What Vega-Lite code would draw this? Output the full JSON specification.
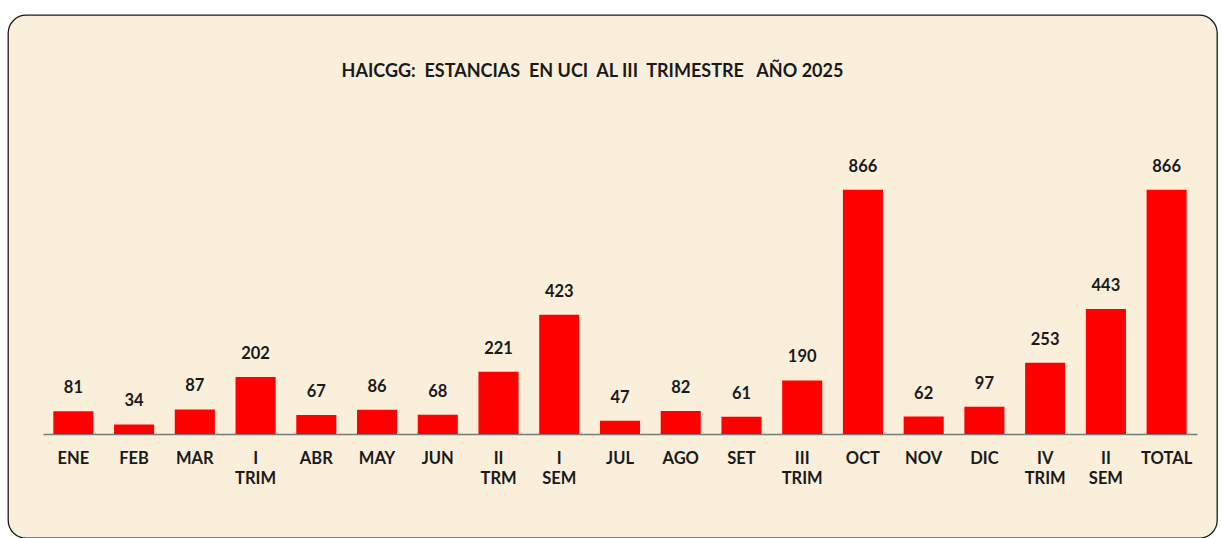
{
  "$schema": "https://vega.github.io/schema/vega-lite/v6.json",
  "autosize": "none",
  "width": 1209,
  "height": 523,
  "padding": {"left": 8, "top": 15, "right": 4, "bottom": 0},
  "background": "white",
  "config": {
    "view": {"fill": "#FAEFDA", "stroke": "#1a1a1a", "strokeWidth": 1.3, "cornerRadius": 18},
    "font": "Lato"
  },
  "title": {
    "text": "HAICGG:\u00a0 ESTANCIAS\u00a0 EN UCI\u00a0 AL III\u00a0 TRIMESTRE\u00a0\u00a0 AÑO 2025",
    "font": "Lato",
    "fontSize": 18,
    "fontWeight": "bold",
    "color": "#1a1a1a",
    "anchor": "middle",
    "baseline": "middle",
    "offset": 0,
    "dy": 75,
    "dx": -20
  },
  "data": {
    "values": [
      {"mes": "ENE", "valor": 81},
      {"mes": "FEB", "valor": 34},
      {"mes": "MAR", "valor": 87},
      {"mes": "I TRIM", "valor": 202},
      {"mes": "ABR", "valor": 67},
      {"mes": "MAY", "valor": 86},
      {"mes": "JUN", "valor": 68},
      {"mes": "II TRM", "valor": 221},
      {"mes": "I SEM", "valor": 423},
      {"mes": "JUL", "valor": 47},
      {"mes": "AGO", "valor": 82},
      {"mes": "SET", "valor": 61},
      {"mes": "III TRIM", "valor": 190},
      {"mes": "OCT", "valor": 866},
      {"mes": "NOV", "valor": 62},
      {"mes": "DIC", "valor": 97},
      {"mes": "IV TRIM", "valor": 253},
      {"mes": "II SEM", "valor": 443},
      {"mes": "TOTAL", "valor": 866}
    ]
  },
  "encoding": {
    "x": {
      "field": "mes",
      "type": "nominal",
      "sort": null,
      "scale": {"range": [35, 1189], "paddingInner": 0.34, "paddingOuter": 0.17},
      "axis": {
        "title": null,
        "offset": -104,
        "domainColor": "#7a7a7a",
        "domainWidth": 1.5,
        "ticks": false,
        "labelAngle": 0,
        "labelPadding": 16,
        "labelFont": "Lato",
        "labelFontSize": 16.5,
        "labelFontWeight": "bold",
        "labelColor": "#1a1a1a",
        "labelLineHeight": 20,
        "labelBaseline": "top",
        "labelExpr": "split(datum.label, ' ')"
      }
    },
    "y": {
      "field": "valor",
      "type": "quantitative",
      "scale": {"domain": [0, 1000], "range": [419, 137], "nice": false},
      "axis": null
    }
  },
  "layer": [
    {"mark": {"type": "bar", "color": "#FF0000"}},
    {
      "mark": {"type": "text", "baseline": "alphabetic", "dy": -18, "font": "Lato", "fontSize": 16.5, "fontWeight": "bold", "color": "#1a1a1a"},
      "encoding": {"text": {"field": "valor", "type": "quantitative"}}
    }
  ]
}
